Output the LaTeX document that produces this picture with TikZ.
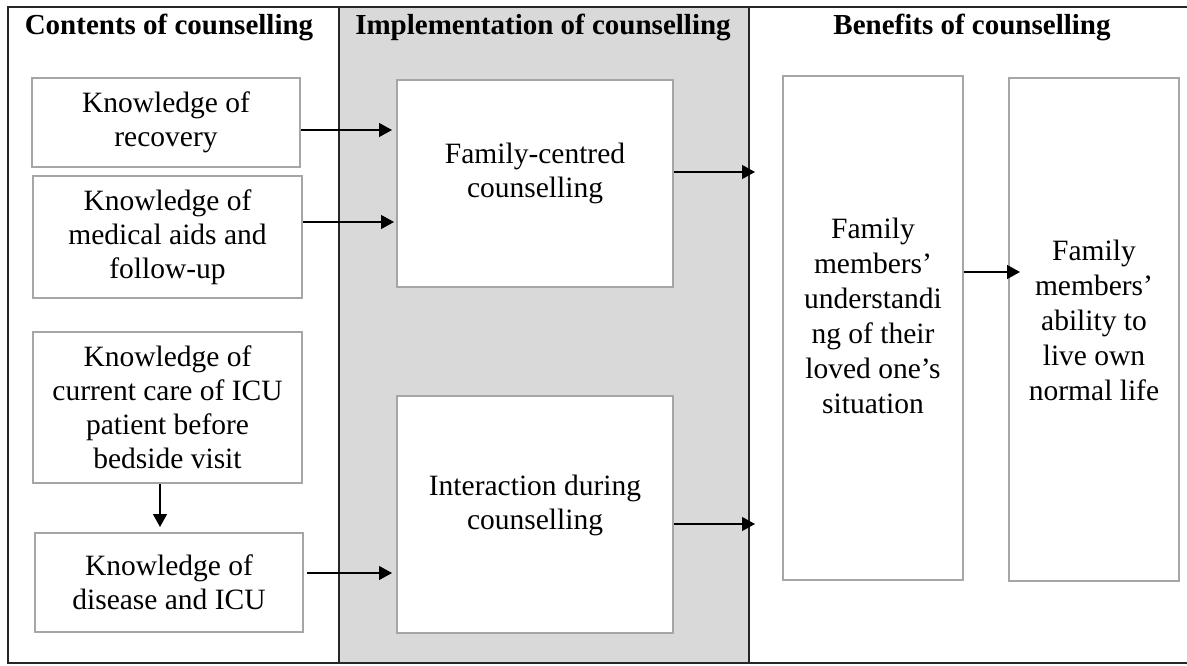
\documentclass[tikz,border=0pt]{standalone}
\usepackage{fontspec}
\setmainfont{Liberation Serif}
\usetikzlibrary{arrows.meta,calc}
\definecolor{fillgray}{HTML}{D9D9D9}
\definecolor{boxgray}{HTML}{A6A6A6}
\begin{document}
\begin{tikzpicture}[x=1pt,y=-1pt,
  frame/.style={draw=black!85, line width=1.4pt},
  box/.style 2 args={draw=boxgray, line width=2pt, fill=white, inner sep=0pt,
    minimum width=#1, minimum height=#2},
  txt/.style={align=center, inner sep=0pt, font=\fontsize{29.5}{34}\selectfont},
  tall/.style={align=center, inner sep=0pt, font=\fontsize{29.5}{35}\selectfont},
  head/.style={anchor=base, inner sep=0pt, font=\bfseries\fontsize{29}{34}\selectfont},
  arr/.style={draw=black, line width=1.3pt, -{Triangle[length=13pt,width=14pt]}}]
\useasboundingbox (0,0) rectangle (1187,665);

% columns
\fill[fillgray] (339,7) rectangle (749,663);
\draw[frame] (1187,7) -- (8,7) -- (8,663) -- (1187,663);
\draw[frame] (339,7) -- (339,663);
\draw[frame] (749,7) -- (749,663);

% headings
\node[head] (h1) at (169,34) {Contents of counselling};
\node[head] (h2) at (543,34) {Implementation of counselling};
\node[head] (h3) at (972,34) {Benefits of counselling};

% boxes
\node[box={268pt}{89pt}]  (A) at (166,122.5) {};
\node[box={269pt}{122pt}] (B) at (167.5,237) {};
\node[box={269pt}{151pt}] (C) at (167.5,407.5) {};
\node[box={268pt}{99pt}]  (D) at (169,582.5) {};
\node[box={276pt}{207pt}] (E) at (535,183.5) {};
\node[box={276pt}{237pt}] (F) at (535,514.5) {};
\node[box={180pt}{504pt}] (G) at (873,328) {};
\node[box={170pt}{503pt}] (H) at (1094,329.5) {};

% texts
\node[txt] (At) at (A) {Knowledge of\\recovery};
\node[txt] (Bt) at (B) {Knowledge of\\medical aids and\\follow-up};
\node[txt] (Ct) at (C) {Knowledge of\\current care of ICU\\patient before\\bedside visit};
\node[txt] (Dt) at (D) {Knowledge of\\disease and ICU};
\node[txt] (Et) at ($(E)+(0,-10)$) {Family-centred\\counselling};
\node[txt] (Ft) at ($(F)+(0,-9.5)$) {Interaction during\\counselling};
\node[tall] (Gt) at ($(G)+(0,-12)$) {Family\\members’\\understandi\\ng of their\\loved one’s\\situation};
\node[tall] (Ht) at ($(H)+(0,-9.5)$) {Family\\members’\\ability to\\live own\\normal life};

% connectors
\coordinate (yA) at (0,130);
\draw[arr, shorten >=4pt] (A.east |- yA) -- (E.west |- yA);
\coordinate (yB) at (0,222);
\draw[arr, shorten >=2pt] (B.east |- yB) -- (E.west |- yB);
\coordinate (yD) at (0,573);
\draw[arr, shorten >=4pt, shorten <=3pt] (D.east |- yD) -- (F.west |- yD);
\coordinate (oE) at (755,172);
\draw[arr] (E.east |- oE) -- (oE);
\coordinate (oF) at (755,524);
\draw[arr] (F.east |- oF) -- (oF);
\coordinate (xC) at (160,0);
\draw[arr, shorten >=5pt] (C.south -| xC) -- (D.north -| xC);
\coordinate (yG) at (0,272);
\draw[arr, shorten >=-12pt] (G.east |- yG) -- (H.west |- yG);
\end{tikzpicture}
\end{document}
